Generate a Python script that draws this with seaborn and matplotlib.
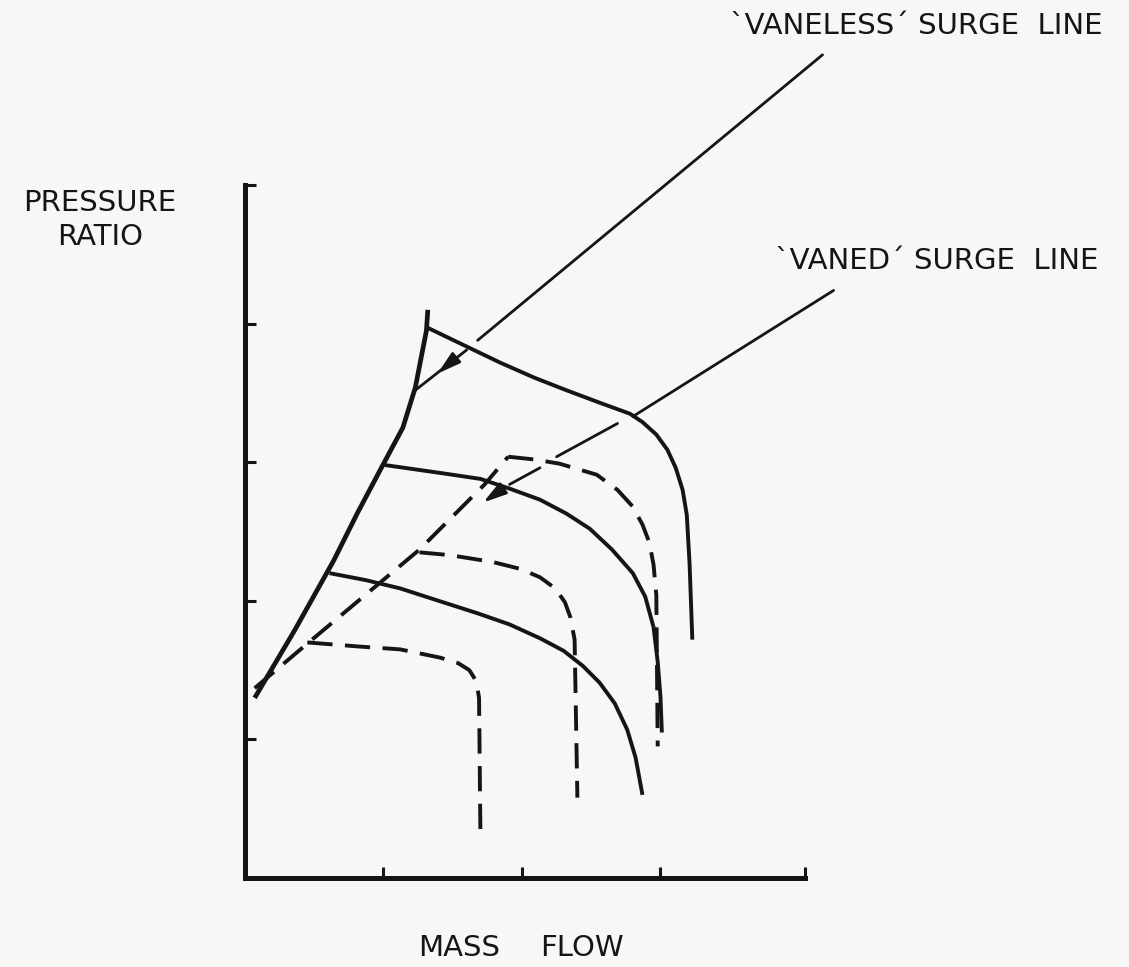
import numpy as np
import pandas as pd
import seaborn as sns
from matplotlib import pyplot as plt

# compressor map (x: mass flow, y: pressure ratio; arbitrary units)
vaneless_surge_x = [0.07, 0.36, 0.64, 0.81, 0.99, 1.14, 1.23, 1.31, 1.32]
vaneless_surge_y = [1.30, 1.79, 2.29, 2.63, 2.97, 3.25, 3.54, 3.95, 4.10]

vaned_surge_x = [0.07, 0.46, 1.26, 1.73, 1.90]
vaned_surge_y = [1.37, 1.70, 2.37, 2.84, 3.04]

# vaneless speed lines (solid)
solid_top_x = [1.32, 1.59, 1.84, 2.09, 2.32, 2.56, 2.78, 2.87, 2.97, 3.05, 3.11, 3.16, 3.19, 3.21, 3.23]
solid_top_y = [3.97, 3.84, 3.72, 3.61, 3.52, 3.43, 3.35, 3.29, 3.20, 3.09, 2.96, 2.80, 2.62, 2.27, 1.72]
solid_mid_x = [1.01, 1.43, 1.70, 1.91, 2.13, 2.32, 2.49, 2.65, 2.80, 2.89, 2.95, 2.98, 3.00, 3.01]
solid_mid_y = [2.98, 2.92, 2.88, 2.81, 2.73, 2.63, 2.52, 2.37, 2.20, 2.03, 1.81, 1.56, 1.31, 1.05]
solid_low_x = [0.61, 0.87, 1.12, 1.43, 1.68, 1.91, 2.13, 2.30, 2.44, 2.56, 2.67, 2.76, 2.82, 2.87]
solid_low_y = [2.20, 2.15, 2.09, 1.99, 1.91, 1.83, 1.73, 1.64, 1.53, 1.41, 1.26, 1.07, 0.87, 0.60]

# vaned speed lines (dashed)
dash_top_x = [1.90, 2.09, 2.27, 2.54, 2.69, 2.80, 2.87, 2.92, 2.95, 2.97, 2.98]
dash_top_y = [3.04, 3.02, 2.99, 2.91, 2.80, 2.68, 2.55, 2.42, 2.26, 2.04, 0.95]
dash_mid_x = [1.26, 1.48, 1.79, 1.99, 2.13, 2.24, 2.31, 2.35, 2.38, 2.40]
dash_mid_y = [2.35, 2.33, 2.28, 2.23, 2.17, 2.09, 1.99, 1.88, 1.72, 0.58]
dash_low_x = [0.45, 0.83, 1.12, 1.41, 1.54, 1.62, 1.67, 1.69, 1.70]
dash_low_y = [1.70, 1.67, 1.65, 1.59, 1.55, 1.50, 1.42, 1.30, 0.31]

# leader lines to the labels (broken where they cross the curves)
vaneless_leader = [((4.17, 5.94), (1.68, 3.88)), ((1.60, 3.81), (1.23, 3.52))]
vaneless_arrow = ((1.52, 3.75), (1.39, 3.64))
vaned_leader = [((4.25, 4.24), (2.80, 3.33)), ((2.69, 3.28), (2.25, 3.04)),
                ((2.13, 2.96), (1.91, 2.84))]
vaned_arrow = ((1.82, 2.78), (1.72, 2.71))

ink = '#151515'
paper = '#f7f7f5'

sns.set_style('ticks')
plt.rcParams['font.family'] = ['DejaVu Sans']

fig = plt.figure(figsize=(11.29, 9.67), dpi=100, facecolor=paper)
ax = fig.add_axes([0.2170, 0.0920, 0.4960, 0.7166])
ax.set_facecolor(paper)

dashed = (0, (6.5, 3.2))
curves = [
    (vaneless_surge_x, vaneless_surge_y, '-', 3.4),
    (solid_top_x, solid_top_y, '-', 2.8),
    (solid_mid_x, solid_mid_y, '-', 2.8),
    (solid_low_x, solid_low_y, '-', 2.8),
    (vaned_surge_x, vaned_surge_y, dashed, 2.8),
    (dash_top_x, dash_top_y, dashed, 2.8),
    (dash_mid_x, dash_mid_y, dashed, 2.8),
    (dash_low_x, dash_low_y, dashed, 2.8),
]
for xs, ys, ls, lw in curves:
    df = pd.DataFrame({'flow': xs, 'pr': ys})
    sns.lineplot(data=df, x='flow', y='pr', sort=False, estimator=None, color=ink,
                 linestyle=ls, linewidth=lw, ax=ax, solid_capstyle='butt',
                 solid_joinstyle='round', dash_joinstyle='round')

for (x0, y0), (x1, y1) in vaneless_leader + vaned_leader:
    df = pd.DataFrame({'flow': [x0, x1], 'pr': [y0, y1]})
    sns.lineplot(data=df, x='flow', y='pr', sort=False, estimator=None, color=ink,
                 linewidth=2.0, ax=ax, clip_on=False)

for base, tip in [vaneless_arrow, vaned_arrow]:
    ax.annotate('', xy=tip, xytext=base,
                arrowprops=dict(arrowstyle='-|>,head_length=0.7,head_width=0.2',
                                color=ink, lw=2.0, shrinkA=0, shrinkB=0,
                                mutation_scale=20))

xmax = 560 / 138.5
ax.set_xlim(0, xmax)
ax.set_ylim(0, 5)
ax.set_xticks([1, 2, 3, xmax])
ax.set_yticks([1, 2, 3, 4, 5])
ax.set_xticklabels([])
ax.set_yticklabels([])
ax.tick_params(direction='in', length=8, width=2.2, color=ink)
ax.set_xlabel('')
ax.set_ylabel('')
sns.despine(ax=ax)
for side in ['left', 'bottom']:
    ax.spines[side].set_linewidth(3.6)
    ax.spines[side].set_color(ink)

txt = dict(color=ink, fontsize=21)
fig.text(100 / 1129, 1 - 203 / 967, 'PRESSURE', ha='center', va='center', **txt)
fig.text(100 / 1129, 1 - 237 / 967, 'RATIO', ha='center', va='center', **txt)
fig.text(500 / 1129, 1 - 948 / 967, 'MASS', ha='right', va='center', **txt)
fig.text(540 / 1129, 1 - 948 / 967, 'FLOW', ha='left', va='center', **txt)
fig.text(1103 / 1129, 1 - 26 / 967, '`VANELESS´ SURGE  LINE', ha='right', va='center', **txt)
fig.text(1098 / 1129, 1 - 261 / 967, '`VANED´ SURGE  LINE', ha='right', va='center', **txt)

fig.savefig('out.png', dpi=100, facecolor=paper)
